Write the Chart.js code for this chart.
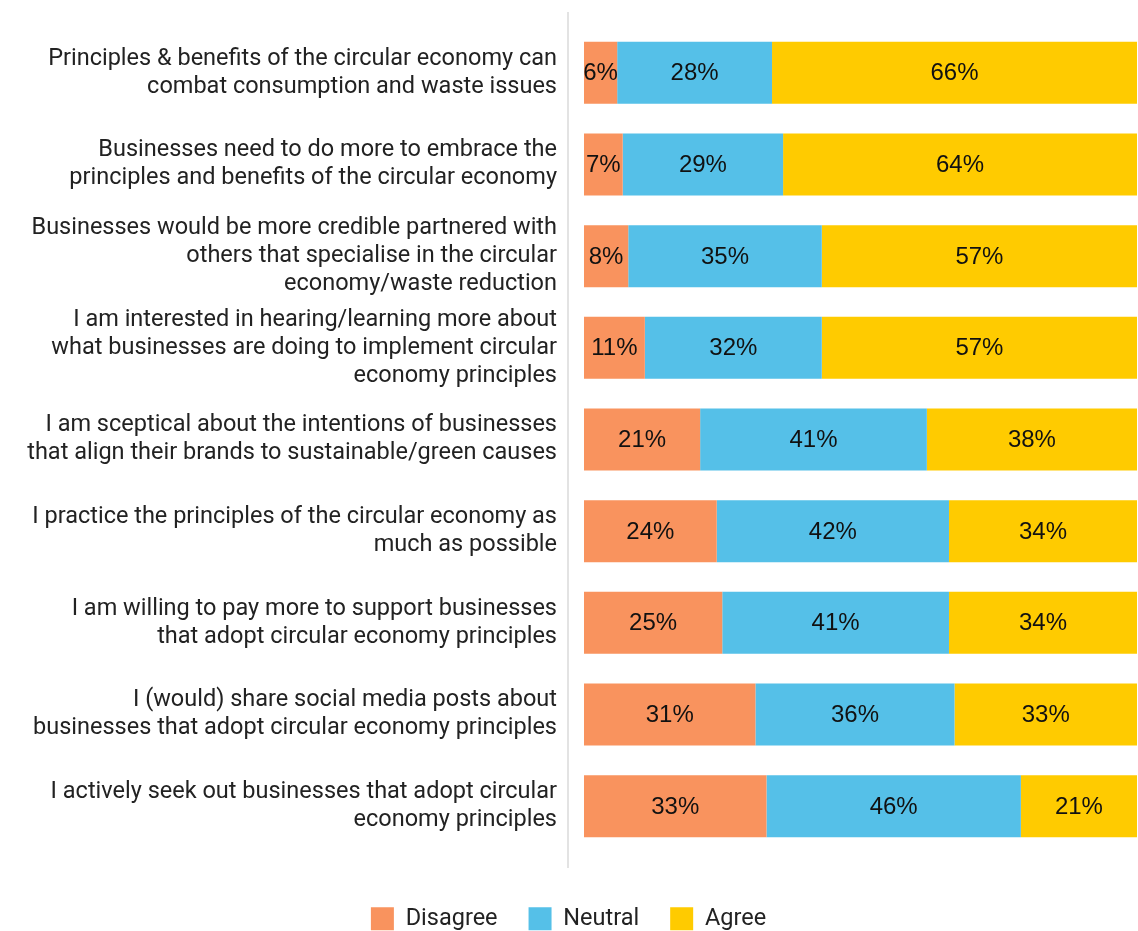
<!DOCTYPE html>
<html>
<head>
<meta charset="utf-8">
<script src="https://cdn.jsdelivr.net/npm/chart.js@4/dist/chart.umd.min.js"></script>
<style>
  html, body { margin: 0; padding: 0; background: #ffffff; }
  #wrap { width: 1138px; height: 931px; position: relative; }
</style>
</head>
<body>
<div id="wrap"><canvas id="circularChart"></canvas></div>
<script>
const statements = [
    ["Principles & benefits of the circular economy can", "combat consumption and waste issues"],
    ["Businesses need to do more to embrace the", "principles and benefits of the circular economy"],
    ["Businesses would be more credible partnered with", "others that specialise in the circular", "economy/waste reduction"],
    ["I am interested in hearing/learning more about", "what businesses are doing to implement circular", "economy principles"],
    ["I am sceptical about the intentions of businesses", "that align their brands to sustainable/green causes"],
    ["I practice the principles of the circular economy as", "much as possible"],
    ["I am willing to pay more to support businesses", "that adopt circular economy principles"],
    ["I (would) share social media posts about", "businesses that adopt circular economy principles"],
    ["I actively seek out businesses that adopt circular", "economy principles"]
]

const disagree = [6, 7, 8, 11, 21, 24, 25, 31, 33]
const neutral = [28, 29, 35, 32, 41, 42, 41, 36, 46]
const agree = [66, 64, 57, 57, 38, 34, 34, 33, 21]

const seriesNames = ["Disagree", "Neutral", "Agree"]
const seriesColors = ["#F9935E", "#55C0E8", "#FFCB00"]

const tickFont = "Roboto"
const valueFont = "Liberation Sans"

// percentage text in the middle of each segment
const segmentLabels = {
    id: "segmentLabels",
    afterDatasetsDraw(chart) {
        const ctx = chart.ctx
        ctx.save()
        ctx.font = `24px "${valueFont}"`
        ctx.fillStyle = "#111111"
        ctx.textAlign = "center"
        ctx.textBaseline = "middle"
        chart.data.datasets.forEach((ds, i) => {
            const meta = chart.getDatasetMeta(i)
            meta.data.forEach((bar, j) => {
                const cx = (bar.x + bar.base) / 2
                ctx.fillText(ds.data[j] + "%", cx, bar.y + 1)
            })
        })
        ctx.restore()
    }
}

// thin grey rule between the statements and the bars
const dividerLine = {
    id: "dividerLine",
    beforeDatasetsDraw(chart) {
        const area = chart.chartArea
        const ctx = chart.ctx
        ctx.save()
        ctx.strokeStyle = "#e3e3e3"
        ctx.lineWidth = 2
        ctx.beginPath()
        ctx.moveTo(area.left - 16, area.top - 15)
        ctx.lineTo(area.left - 16, area.bottom + 16)
        ctx.stroke()
        ctx.restore()
    }
}

const ctx = document.getElementById("circularChart").getContext("2d")

new Chart(ctx, {
    type: "bar",
    data: {
        labels: statements,
        datasets: [disagree, neutral, agree].map((values, i) => ({
            label: seriesNames[i],
            data: values,
            backgroundColor: seriesColors[i],
            borderWidth: 0,
            barPercentage: 0.676,
            categoryPercentage: 1
        }))
    },
    options: {
        indexAxis: "y",
        responsive: true,
        maintainAspectRatio: false,
        animation: false,
        layout: {
            padding: { top: 27, right: 1, left: 0, bottom: 0 }
        },
        plugins: {
            legend: {
                position: "bottom",
                maxHeight: 55,
                labels: {
                    boxWidth: 23,
                    boxHeight: 23,
                    padding: 31,
                    color: "#222222",
                    font: { family: tickFont, size: 23.5 }
                }
            },
            tooltip: { enabled: false }
        },
        scales: {
            x: {
                stacked: true,
                min: 0,
                max: 100,
                ticks: { display: false },
                grid: { display: false, drawTicks: false },
                border: { display: false },
                afterFit(scale) {
                    scale.height = 24
                }
            },
            y: {
                stacked: true,
                grid: { display: false, drawTicks: false },
                border: { display: false },
                afterFit(scale) {
                    scale.width = 584
                    scale.paddingTop = 0
                    scale.paddingBottom = 0
                },
                ticks: {
                    padding: 27,
                    color: "#222222",
                    font: { family: tickFont, size: 23.5, lineHeight: "28px" }
                }
            }
        }
    },
    plugins: [dividerLine, segmentLabels]
})
</script>
</body>
</html>
